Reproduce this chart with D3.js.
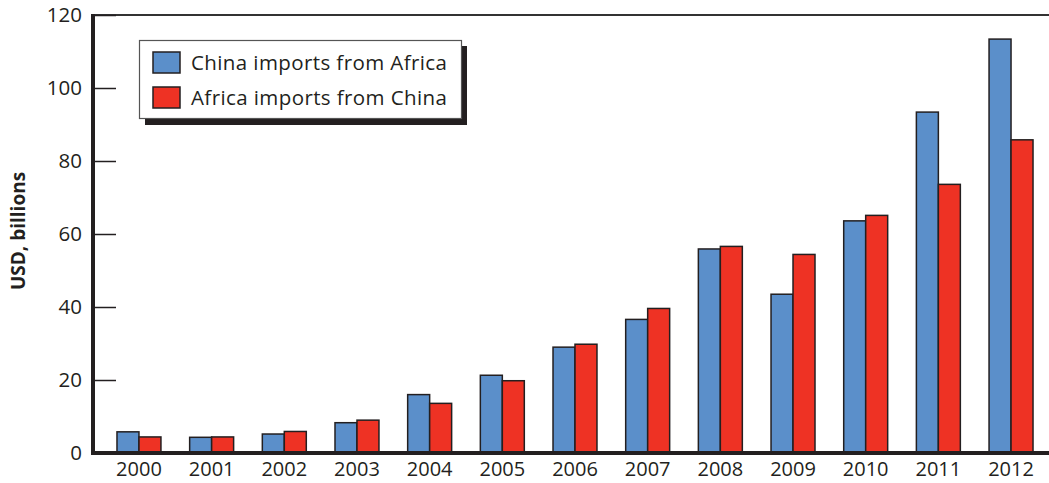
<!DOCTYPE html>
<html>
<head>
<meta charset="utf-8">
<script src="https://cdn.jsdelivr.net/npm/d3@7"></script>
<style>
  body { margin: 0; background: #fff; }
  text { font-family: "Open Sans", "Noto Sans", sans-serif; fill: #231f20; }
</style>
</head>
<body>
<svg></svg>
<script>
let years = ["2000", "2001", "2002", "2003", "2004", "2005", "2006", "2007", "2008", "2009", "2010", "2011", "2012"];
let chinaImports = [5.8, 4.3, 5.2, 8.3, 16.0, 21.3, 29.0, 36.6, 55.9, 43.5, 63.6, 93.4, 113.4];
let africaImports = [4.4, 4.4, 5.9, 9.0, 13.6, 19.8, 29.8, 39.6, 56.6, 54.4, 65.1, 73.6, 85.8];
let seriesNames = ["China imports from Africa", "Africa imports from China"];
let yTicks = [0, 20, 40, 60, 80, 100, 120];

let colors = ["#5b8fca", "#ee3224"];

let width = 1049;
let height = 483;
let plotLeft = 93;
let plotTop = 15;
let plotBottom = 453;

let svg = d3.select("svg")
    .attr("width", width)
    .attr("height", height);

let xScale = d3.scaleBand()
    .domain(years)
    .range([plotLeft, 1057])
    .paddingInner(0.395)
    .paddingOuter(0.33);

let subScale = d3.scaleBand()
    .domain([0, 1])
    .range([0, xScale.bandwidth()]);

let yScale = d3.scaleLinear()
    .domain([0, 120])
    .range([plotBottom, plotTop]);

// top border
svg.append("line")
    .attr("x1", plotLeft).attr("x2", width)
    .attr("y1", plotTop).attr("y2", plotTop)
    .attr("stroke", "#333").attr("stroke-width", 2);

// y axis with inner ticks
let yAxis = d3.axisRight(yScale)
    .tickValues(yTicks)
    .tickSize(23)
    .tickFormat("");

let yg = svg.append("g")
    .attr("transform", "translate(" + plotLeft + ",0)")
    .call(yAxis);
yg.select(".domain").remove();
yg.selectAll(".tick line").attr("stroke", "#231f20").attr("stroke-width", 1.5);

svg.selectAll(".ylabel")
    .data(yTicks)
    .enter()
    .append("text")
    .attr("class", "ylabel")
    .attr("x", 82)
    .attr("y", (d) => yScale(d))
    .attr("dy", "0.36em")
    .attr("text-anchor", "end")
    .style("font-size", "20.5px")
    .text((d) => d);

svg.append("text")
    .attr("transform", "translate(25," + 231 + ") rotate(-90)")
    .attr("text-anchor", "middle")
    .style("font-size", "19px")
    .style("font-weight", "bold")
    .text("USD, billions");

// bars
let groups = svg.selectAll(".year")
    .data(years)
    .enter()
    .append("g")
    .attr("class", "year")
    .attr("transform", (d) => "translate(" + xScale(d) + ",0)");

groups.selectAll("rect")
    .data((d, i) => [chinaImports[i], africaImports[i]])
    .enter()
    .append("rect")
    .attr("x", (d, j) => subScale(j))
    .attr("width", subScale.bandwidth())
    .attr("y", (d) => yScale(d))
    .attr("height", (d) => plotBottom - yScale(d))
    .attr("fill", (d, j) => colors[j])
    .attr("stroke", "#231f20")
    .attr("stroke-width", 1.5);

// x axis
let xAxis = d3.axisBottom(xScale).tickSize(0).tickPadding(9);
let xg = svg.append("g")
    .attr("transform", "translate(0," + plotBottom + ")")
    .call(xAxis);
xg.select(".domain").remove();
xg.selectAll("text").style("font-size", "20px").style("font-family", "'Open Sans', sans-serif").attr("fill", "#231f20");

svg.append("line")
    .attr("x1", plotLeft - 2).attr("x2", width)
    .attr("y1", plotBottom).attr("y2", plotBottom)
    .attr("stroke", "#231f20").attr("stroke-width", 4);

svg.append("line")
    .attr("x1", plotLeft).attr("x2", plotLeft)
    .attr("y1", plotTop - 1).attr("y2", plotBottom + 2)
    .attr("stroke", "#231f20").attr("stroke-width", 4);

// legend
let legend = svg.append("g");
legend.append("rect")
    .attr("x", 145).attr("y", 46)
    .attr("width", 322).attr("height", 79)
    .attr("fill", "#231f20");
legend.append("rect")
    .attr("x", 139.5).attr("y", 40.5)
    .attr("width", 322).attr("height", 78)
    .attr("fill", "#fff")
    .attr("stroke", "#555").attr("stroke-width", 1.2);

seriesNames.forEach((name, i) => {
    legend.append("rect")
        .attr("x", 153).attr("y", 52 + i * 35)
        .attr("width", 27).attr("height", 21)
        .attr("fill", colors[i])
        .attr("stroke", "#231f20").attr("stroke-width", 1.5);
    legend.append("text")
        .attr("x", 191).attr("y", 62.5 + i * 35)
        .attr("dy", "0.36em")
        .style("font-size", "20.5px")
        .style("letter-spacing", "0.4px")
        .text(name);
});
</script>
</body>
</html>
